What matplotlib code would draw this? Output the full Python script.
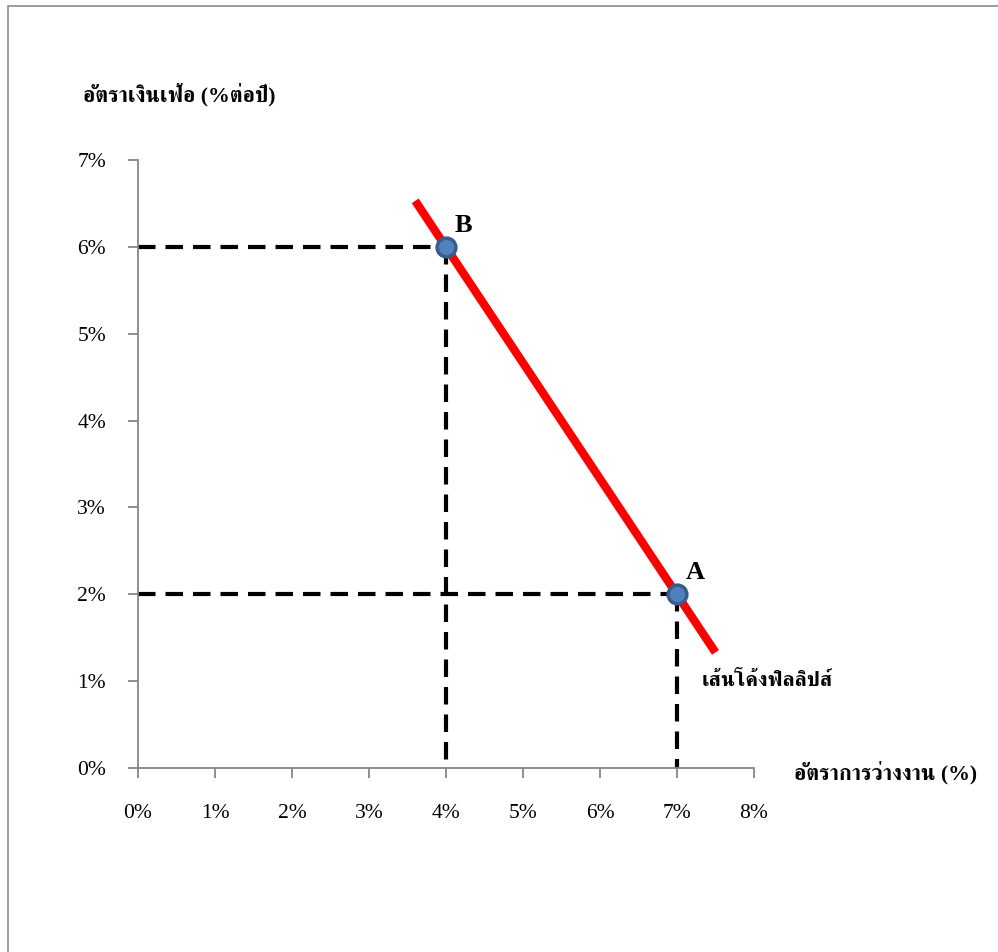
import matplotlib
matplotlib.use("Agg")
import matplotlib.pyplot as plt
from matplotlib.patches import Rectangle

# Latin glyphs from a Times-like serif, Thai glyphs from FreeSerif
plt.rcParams['font.family'] = ['Liberation Serif', 'FreeSerif', 'DejaVu Sans']

# --- data ---
unemployment = [7, 4]          # % (points A, B)
inflation = [2, 6]             # % per year
point_names = ['A', 'B']
curve_x = [3.6, 7.5]           # Phillips curve end points
curve_y = [6.53, 1.33]
x_ticks = [0, 1, 2, 3, 4, 5, 6, 7, 8]
y_ticks = [0, 1, 2, 3, 4, 5, 6, 7]

ylabel = 'อัตราเงินเฟ้อ (%ต่อปี)'
xlabel = 'อัตราการว่างงาน (%)'
curve_label = 'เส้นโค้งฟิลลิปส์'

fig = plt.figure(figsize=(9.98, 9.52), dpi=100)
ax = fig.add_axes([0.1383, 0.1933, 0.6172, 0.6386])

# outer frame
fig.add_artist(Rectangle((0.008, -0.05), 1.1, 0.9937 + 0.05, transform=fig.transFigure,
                         fill=False, edgecolor='#8c8c8c', lw=1.2))

# guide lines down to the axes
for xv, yv in zip(unemployment, inflation):
    ax.plot([0, xv], [yv, yv], color='black', lw=3, dashes=(4.2, 2.4), zorder=2)
    ax.plot([xv, xv], [yv, 0], color='black', lw=3, dashes=(4.2, 2.4), zorder=2)

ax.plot(curve_x, curve_y, color='#ff0000', lw=6, solid_capstyle='butt', zorder=3)
ax.plot(unemployment, inflation, 'o', ms=13.5, mfc='#4f81bd', mec='#385d8a', mew=2.5, zorder=4)

for name, xv, yv in zip(point_names, unemployment, inflation):
    ax.annotate(name, (xv, yv), xytext=(6, 11), textcoords='offset points',
                fontsize=19, fontweight='bold', ha='left', va='baseline')

ax.text(7.32, 1.0, curve_label, fontsize=15.2, fontweight='bold', ha='left', va='center')
ax.text(-0.089, 1.107, ylabel, transform=ax.transAxes, fontsize=15.7, fontweight='bold',
        ha='left', va='center')
ax.text(1.065, -0.008, xlabel, transform=ax.transAxes, fontsize=15.7, fontweight='bold',
        ha='left', va='center')

ax.set_xlim(0, 8)
ax.set_ylim(0, 7)
ax.set_xticks(x_ticks)
ax.set_yticks(y_ticks)
ax.set_xticklabels([f'{v}%' for v in x_ticks])
ax.set_yticklabels([f'{v}%' for v in y_ticks])
for s in ['top', 'right']:
    ax.spines[s].set_visible(False)
for s in ['left', 'bottom']:
    ax.spines[s].set_color('#868686')
    ax.spines[s].set_linewidth(1.3)
ax.tick_params(colors='#868686', labelcolor='black', length=7, width=1.3, labelsize=15.5)
ax.tick_params(axis='x', pad=19)
ax.tick_params(axis='y', pad=16)

fig.savefig('out.png', dpi=100)
